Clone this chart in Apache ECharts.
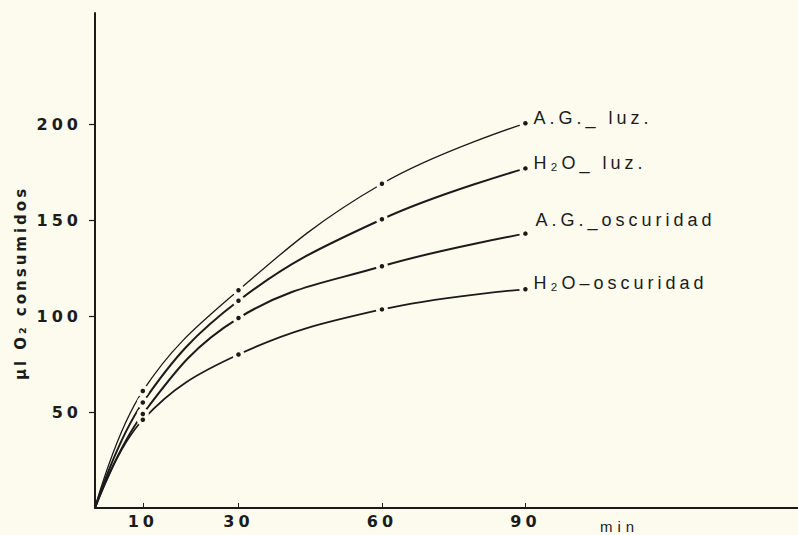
<!DOCTYPE html>
<html><head><meta charset="utf-8">
<script src="https://cdn.jsdelivr.net/npm/echarts@6/dist/echarts.min.js"></script>
<style>html,body{margin:0;padding:0;background:#fcfbee}#c{width:798px;height:535px}</style>
</head><body><div id="c"></div>
<script>
// ---- data ----
const times = [0, 10, 30, 60, 90];
const agLuz = [0, 61, 113.5, 169, 200.5];
const h2oLuz = [0, 55, 108, 150.5, 177];
const agOsc = [0, 49, 99, 126, 143];
const h2oOsc = [0, 46, 80, 103.5, 114];
const seriesNames = ['A.G._ luz.', 'H₂O_ luz.', 'A.G._oscuridad', 'H₂O–oscuridad'];
const xTicks = [10, 30, 60, 90];
const yTicks = [50, 100, 150, 200];
const xUnit = 'min';
const yName = 'µl O₂ consumidos';

// ---- styles ----
const BG = '#fcfbee';
const INK = '#1b1b1b';
const allValues = [agLuz, h2oLuz, agOsc, h2oOsc];
const widths = [1.3, 2, 2, 1.8];
const labelOffsets = [[2, -5], [2, -5], [4, -14], [2, -6]];

const series = [];
allValues.forEach((vals, i) => {
  const pts = times.map((t, j) => [t, vals[j]]);
  series.push({
    type: 'line', name: seriesNames[i], data: pts, smooth: 0.4,
    symbol: 'none', z: 2,
    lineStyle: { color: INK, width: widths[i] },
    endLabel: { show: true, formatter: seriesNames[i], distance: 6, offset: labelOffsets[i],
      color: INK, fontSize: 18, fontFamily: 'Liberation Sans' }
  });
});
allValues.forEach((vals, i) => {
  series.push({
    type: 'scatter', data: times.slice(1).map((t, j) => [t, vals[j + 1]]), symbol: 'circle', symbolSize: 12, z: 4, silent: true,
    itemStyle: { color: BG, opacity: 1 }
  });
});
allValues.forEach((vals, i) => {
  series.push({
    type: 'scatter', data: times.slice(1).map((t, j) => [t, vals[j + 1]]), symbolSize: 4.5, z: 5, silent: true,
    itemStyle: { color: INK, opacity: 1 }
  });
});

const chart = echarts.init(document.getElementById('c'), null, { renderer: 'svg', width: 798, height: 535 });
chart.setOption({
  animation: false,
  backgroundColor: BG,
  grid: { left: 95, right: 0, top: 13, bottom: 27, containLabel: false, outerBoundsMode: 'none' },
  xAxis: {
    type: 'value', min: 0, max: 147,
    axisLine: { show: true, lineStyle: { color: INK, width: 2 } },
    axisTick: { show: true, inside: true, length: 5, customValues: xTicks, lineStyle: { color: INK, width: 1 } },
    axisLabel: { customValues: xTicks, color: INK, fontSize: 16, fontWeight: 'bold', fontFamily: 'DejaVu Sans', margin: 5 },
    splitLine: { show: false }
  },
  yAxis: {
    type: 'value', min: 0, max: 258,
    axisLine: { show: true, lineStyle: { color: INK, width: 2 } },
    axisTick: { show: true, inside: false, length: 6, customValues: yTicks, lineStyle: { color: INK, width: 1.2 } },
    axisLabel: { customValues: yTicks, color: INK, fontSize: 16, fontWeight: 'bold', fontFamily: 'DejaVu Sans', margin: 13 },
    splitLine: { show: false }
  },
  graphic: [
    { type: 'text', x: 600, y: 526, style: { text: xUnit, fill: INK, fontSize: 15, fontFamily: 'Liberation Sans', verticalAlign: 'middle' } },
    { type: 'text', x: 21, y: 283, rotation: Math.PI / 2,
      style: { text: yName, fill: INK, fontSize: 15, fontWeight: 'bold', fontFamily: 'DejaVu Sans', align: 'center', verticalAlign: 'middle' } }
  ],
  series: series
});

document.querySelectorAll('#c text').forEach(t => {
  const s = t.textContent;
  if (/^\d+$/.test(s)) t.style.letterSpacing = '4px';
  else if (s === yName) t.style.letterSpacing = '3px';
  else if (s === xUnit) t.style.letterSpacing = '5px';
  else if (seriesNames.includes(s)) t.style.letterSpacing = '4px';
});
</script>
</body></html>
